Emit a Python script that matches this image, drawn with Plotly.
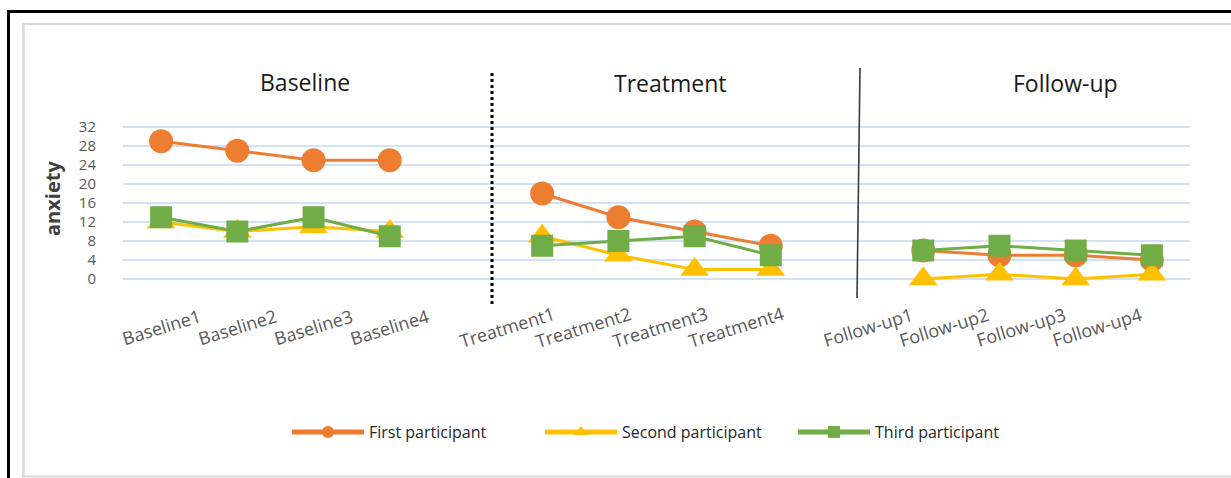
import plotly.graph_objects as go

# Session labels per phase
baseline_sessions = ["Baseline1", "Baseline2", "Baseline3", "Baseline4"]
treatment_sessions = ["Treatment1", "Treatment2", "Treatment3", "Treatment4"]
followup_sessions = ["Follow-up1", "Follow-up2", "Follow-up3", "Follow-up4"]
phase_titles = ["Baseline", "Treatment", "Follow-up"]
gap_slots = [" ", "  "]

# Anxiety scores per participant and phase
first_baseline = [29, 27, 25, 25]
first_treatment = [18, 13, 10, 7]
first_followup = [6, 5, 5, 4]

second_baseline = [12, 10, 11, 10]
second_treatment = [9, 5, 2, 2]
second_followup = [0, 1, 0, 1]

third_baseline = [13, 10, 13, 9]
third_treatment = [7, 8, 9, 5]
third_followup = [6, 7, 6, 5]

y_ticks = [0, 4, 8, 12, 16, 20, 24, 28, 32]

participant_names = ["First participant", "Second participant", "Third participant"]
colors = ["#ED7D31", "#FFC000", "#70AD47"]
symbols = ["circle", "triangle-up", "square"]
marker_sizes = [24, 25, 22]

# Category axis with an empty slot between phases so the lines break
categories = baseline_sessions + [gap_slots[0]] + treatment_sessions + [gap_slots[1]] + followup_sessions


def join_phases(b, t, f):
    return b + [None] + t + [None] + f


series = [
    join_phases(first_baseline, first_treatment, first_followup),
    join_phases(second_baseline, second_treatment, second_followup),
    join_phases(third_baseline, third_treatment, third_followup),
]

W, H = 1231, 478
M_L, M_R, M_T, M_B = 123, 41, 122, 194
PLOT_W = W - M_L - M_R
PLOT_H = H - M_T - M_B


def px_x(p):
    return (p - M_L) / PLOT_W


def px_y(p):
    return (H - M_B - p) / PLOT_H


fig = go.Figure()
for name, vals, col, sym, sz in zip(participant_names, series, colors, symbols, marker_sizes):
    fig.add_trace(go.Scatter(
        x=categories, y=vals, name=name, mode="lines+markers",
        line=dict(color=col, width=3),
        marker=dict(symbol=sym, size=sz, color=col, line=dict(width=0)),
        connectgaps=False, cliponaxis=False,
    ))

FONT = "Open Sans, Segoe UI, DejaVu Sans, sans-serif"
annotations = []

# Rotated session labels under the plot
label_shift = {0: 0, 1: -35, 2: -55}
for gi, group in enumerate([baseline_sessions, treatment_sessions, followup_sessions]):
    for lab in group:
        annotations.append(dict(
            x=lab, xref="x", y=px_y(327), yref="paper", text=lab, showarrow=False,
            textangle=-17, xanchor="center", yanchor="middle", xshift=label_shift[gi],
            font=dict(family=FONT, size=18, color="#595959"),
        ))

# Phase headings
for title, (hx, hy) in zip(phase_titles, [(305, 82), (670, 83), (1065, 83)]):
    annotations.append(dict(
        x=px_x(hx), xref="paper", y=px_y(hy), yref="paper", text=title, showarrow=False,
        xanchor="center", yanchor="middle",
        font=dict(family=FONT, size=23, color="#1a1a1a"),
    ))

# Y axis title
annotations.append(dict(
    x=px_x(52), xref="paper", y=px_y(199), yref="paper", text="<b>anxiety</b>",
    showarrow=False, textangle=-90, xanchor="center", yanchor="middle",
    font=dict(family=FONT, size=20, color="#404040"),
))

shapes = [
    # outer black frame (top and left)
    dict(type="line", xref="paper", yref="paper", x0=px_x(8), x1=px_x(1240), y0=px_y(11.5), y1=px_y(11.5),
         line=dict(color="black", width=3)),
    dict(type="line", xref="paper", yref="paper", x0=px_x(8.5), x1=px_x(8.5), y0=px_y(10), y1=px_y(490),
         line=dict(color="black", width=3)),
    # inner gray frame
    dict(type="line", xref="paper", yref="paper", x0=px_x(22), x1=px_x(1240), y0=px_y(24), y1=px_y(24),
         line=dict(color="#d9d9d9", width=2)),
    dict(type="line", xref="paper", yref="paper", x0=px_x(23.5), x1=px_x(23.5), y0=px_y(23), y1=px_y(477),
         line=dict(color="#d9d9d9", width=2.5)),
    dict(type="line", xref="paper", yref="paper", x0=px_x(22), x1=px_x(1240), y0=px_y(476.5), y1=px_y(476.5),
         line=dict(color="#d9d9d9", width=2)),
    # phase separators
    dict(type="line", xref="paper", yref="paper", x0=px_x(492), x1=px_x(492), y0=px_y(73), y1=px_y(307),
         line=dict(color="black", width=3, dash="dot")),
    dict(type="line", xref="paper", yref="paper", x0=px_x(857), x1=px_x(860), y0=px_y(298), y1=px_y(68),
         line=dict(color="#3a3a3a", width=1.6)),
]

span = 32 / (279 - 127)  # data units per pixel
fig.update_layout(
    width=W, height=H,
    margin=dict(l=M_L, r=M_R, t=M_T, b=M_B),
    paper_bgcolor="white", plot_bgcolor="white",
    font=dict(family=FONT),
    xaxis=dict(type="category", categoryorder="array", categoryarray=categories,
               range=[-0.5, len(categories) - 0.5], showticklabels=False,
               showgrid=False, zeroline=False, showline=False, ticks=""),
    yaxis=dict(range=[-(H - M_B - 279) * span, 32 + (127 - M_T) * span],
               tickvals=y_ticks, ticktext=[str(v) for v in y_ticks],
               showgrid=True, gridcolor="#d3e2f3", gridwidth=2,
               zeroline=False, showline=False, ticks="", ticklabelstandoff=26,
               tickfont=dict(family=FONT, size=15, color="#595959")),
    legend=dict(orientation="h", x=px_x(287), y=px_y(432), xanchor="left", yanchor="middle",
                entrywidth=166, entrywidthmode="pixels", itemwidth=72, itemsizing="constant",
                font=dict(family=FONT, size=16, color="#262626"), bgcolor="rgba(0,0,0,0)"),
    annotations=annotations,
    shapes=shapes,
)

fig.write_html("out.html")
